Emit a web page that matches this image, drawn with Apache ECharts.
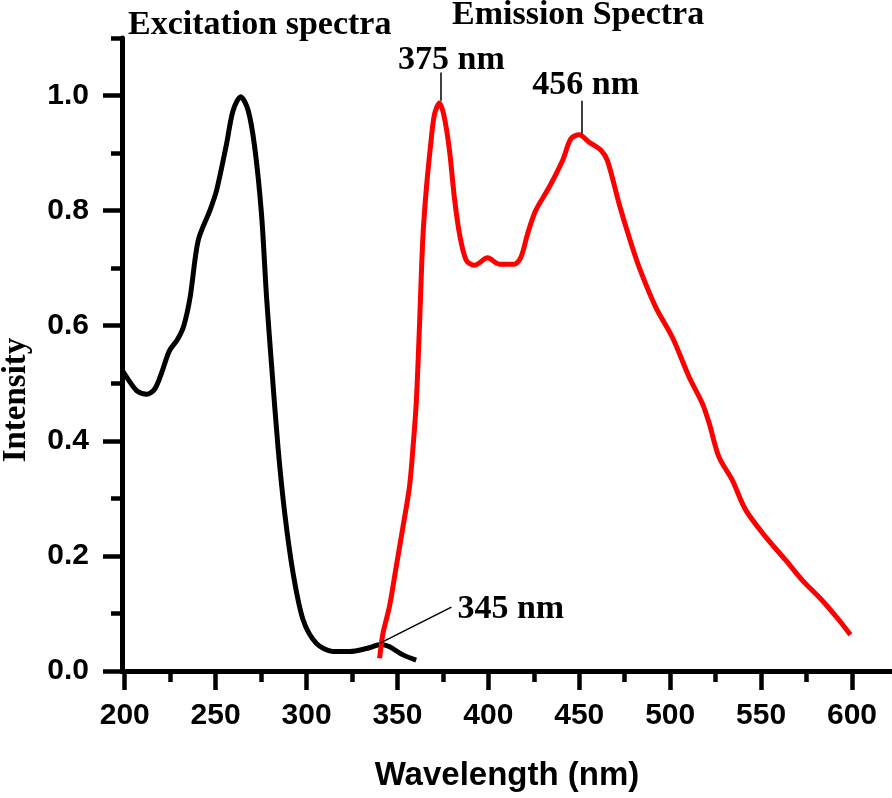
<!DOCTYPE html>
<html>
<head>
<meta charset="utf-8">
<script src="https://cdn.jsdelivr.net/npm/echarts@6/dist/echarts.min.js"></script>
<style>
  html, body { margin: 0; padding: 0; background: #fff; }
  #main { width: 892px; height: 798px; }
</style>
</head>
<body>
<div id="main"></div>
<script>
// excitation spectrum (black), [wavelength nm, intensity]
var excitation = [
  [199.2, 0.520], [202.9, 0.502], [207.0, 0.486], [212.1, 0.481], [216.5, 0.490],
  [220.5, 0.520], [224.5, 0.556], [229.0, 0.576], [232.5, 0.600], [236.0, 0.650],
  [240.4, 0.748], [246.8, 0.800], [250.5, 0.835], [256.0, 0.916], [259.6, 0.974],
  [263.8, 0.998], [267.9, 0.974], [271.5, 0.910], [275.2, 0.795], [278.0, 0.650],
  [280.7, 0.534], [284.3, 0.389], [288.0, 0.274], [292.6, 0.170], [298.1, 0.089],
  [305.4, 0.048], [314.5, 0.034], [323.7, 0.034], [332.9, 0.039], [341.1, 0.046],
  [345.7, 0.042], [353.0, 0.028], [360.3, 0.019]
];

// emission spectrum (red)
var emission = [
  [340.2, 0.022], [342.0, 0.065], [345.6, 0.112], [349.3, 0.181], [353.0, 0.250],
  [356.6, 0.320], [358.6, 0.390], [360.4, 0.470], [362.0, 0.590], [363.9, 0.748],
  [365.8, 0.835], [368.5, 0.922], [370.4, 0.968], [373.1, 0.987], [375.8, 0.962],
  [378.6, 0.905], [381.3, 0.823], [384.1, 0.760], [387.8, 0.714], [392.3, 0.705],
  [399.6, 0.718], [406.0, 0.707], [414.3, 0.707], [417.9, 0.719], [421.6, 0.760],
  [426.0, 0.800], [433.5, 0.841], [440.8, 0.887], [445.4, 0.925], [450.0, 0.932],
  [455.4, 0.919], [461.9, 0.905], [465.5, 0.887], [471.9, 0.812], [477.4, 0.754],
  [482.9, 0.702], [492.1, 0.632], [501.2, 0.580], [510.4, 0.511], [517.7, 0.465],
  [521.5, 0.430], [526.8, 0.372], [534.1, 0.332], [541.5, 0.280], [552.5, 0.233],
  [563.4, 0.193], [572.6, 0.158], [583.5, 0.123], [592.7, 0.089], [599.1, 0.063]
];

var xMajor = [200, 250, 300, 350, 400, 450, 500, 550, 600];
var xMinor = [225, 275, 325, 375, 425, 475, 525, 575];
var yMajor = [0, 0.2, 0.4, 0.6, 0.8, 1.0];
var yMinor = [0.1, 0.3, 0.5, 0.7, 0.9, 1.1];

// peak labels: [x, y, text]
var peakLabels = [
  [379.7, 1.062, '375 nm'],
  [453.5, 1.018, '456 nm']
];
var sideLabel = [383.0, 0.107, '345 nm'];
// leader lines: [[x1,y1],[x2,y2]]
var leaders = [
  [[373.6, 0.991], [373.6, 1.040]],
  [[451.6, 0.934], [451.6, 0.991]],
  [[340.7, 0.049], [379.7, 0.111]]
];

var sans = '"Liberation Sans", Arial, sans-serif';
var serif = '"Liberation Serif", "Times New Roman", serif';

var dom = document.getElementById('main');
var myChart = echarts.init(dom);

var markPts = peakLabels.map(function (p) {
  return {
    coord: [p[0], p[1]],
    label: { show: true, position: 'inside', formatter: p[2] }
  };
});
markPts.push({
  coord: [sideLabel[0], sideLabel[1]],
  label: { show: true, position: 'right', distance: 0, formatter: sideLabel[2] }
});

var option = {
  backgroundColor: '#fff',
  animation: false,
  grid: { left: 122, top: 38, right: 0, bottom: 127, containLabel: false },
  xAxis: [{
    type: 'value', min: 198.5, max: 622,
    name: 'Wavelength (nm)', nameLocation: 'middle', nameGap: 88,
    nameTextStyle: { fontFamily: sans, fontWeight: 'bold', fontSize: 33, color: '#000' },
    splitLine: { show: false },
    axisLine: { lineStyle: { color: '#000', width: 5 } },
    axisTick: { customValues: xMajor, length: 19, lineStyle: { color: '#000', width: 4.5 } },
    axisLabel: { customValues: xMajor, margin: 30, fontFamily: sans, fontWeight: 'bold', fontSize: 30, color: '#000' }
  }, {
    type: 'value', min: 198.5, max: 622, position: 'bottom',
    splitLine: { show: false },
    axisLine: { show: false },
    axisTick: { customValues: xMinor, length: 11, lineStyle: { color: '#000', width: 4.5 } },
    axisLabel: { show: false }
  }],
  yAxis: [{
    type: 'value', min: 0, max: 1.1,
    splitLine: { show: false },
    axisLine: { lineStyle: { color: '#000', width: 5 } },
    axisTick: { customValues: yMajor, length: 19, lineStyle: { color: '#000', width: 4.5 } },
    axisLabel: {
      customValues: yMajor, margin: 33, fontFamily: sans, fontWeight: 'bold', fontSize: 30, color: '#000',
      formatter: function (v) { return v.toFixed(1); }
    }
  }, {
    type: 'value', min: 0, max: 1.1, position: 'left',
    splitLine: { show: false },
    axisLine: { show: false },
    axisTick: { customValues: yMinor, length: 11, lineStyle: { color: '#000', width: 4.5 } },
    axisLabel: { show: false }
  }],
  graphic: [
    { type: 'text', x: 128, y: 25, style: { text: 'Excitation spectra', font: 'bold 34px ' + serif, fill: '#000', align: 'left', verticalAlign: 'middle' } },
    { type: 'text', x: 452, y: 15, style: { text: 'Emission Spectra', font: 'bold 34px ' + serif, fill: '#000', align: 'left', verticalAlign: 'middle' } },
    { type: 'text', x: 16, y: 400, rotation: Math.PI / 2, style: { text: 'Intensity', font: 'bold 33px ' + serif, fill: '#000', align: 'center', verticalAlign: 'middle' } }
  ],
  series: [{
    name: 'Excitation', type: 'line', data: excitation, smooth: 0.3,
    showSymbol: false, symbol: 'none',
    lineStyle: { color: '#000', width: 5 },
    z: 2
  }, {
    name: 'Emission', type: 'line', data: emission, smooth: 0.3,
    showSymbol: false, symbol: 'none',
    lineStyle: { color: '#ff0000', width: 5 },
    z: 3,
    markLine: {
      silent: true, symbol: ['none', 'none'], animation: false,
      lineStyle: { color: '#000', width: 1.5, type: 'solid' },
      label: { show: false },
      data: leaders.map(function (l) { return [{ coord: l[0] }, { coord: l[1] }]; })
    },
    markPoint: {
      silent: true, symbol: 'circle', symbolSize: 0,
      itemStyle: { color: 'transparent' },
      label: { fontFamily: serif, fontWeight: 'bold', fontSize: 34, color: '#000' },
      data: markPts
    }
  }]
};

if (option && typeof option === "object") {
  myChart.setOption(option, true);
}
</script>
</body>
</html>
